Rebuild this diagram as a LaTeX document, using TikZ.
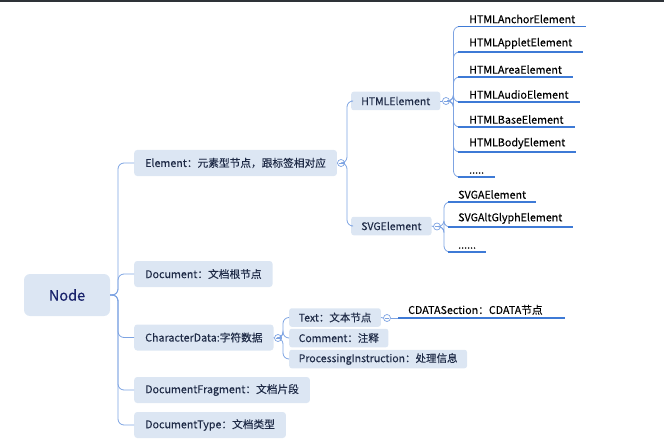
\documentclass[tikz,border=0pt]{standalone}
\usepackage{fontspec}
\setmainfont{Noto Sans CJK SC}[FakeBold=0.15]
\definecolor{boxfill}{RGB}{220,230,243}
\definecolor{lineblue}{RGB}{125,163,226}
\definecolor{ulblue}{RGB}{62,122,214}
\definecolor{navy}{RGB}{30,42,70}
\definecolor{topbar}{RGB}{46,50,56}
\tikzset{
  rootbox/.style={fill=boxfill, rounded corners=6pt, minimum width=86pt, minimum height=42pt,
    inner sep=0pt, text=navy!80!blue, font=\fontsize{14.5}{16}\selectfont},
  lvlbox/.style={fill=boxfill, rounded corners=3pt, anchor=west, minimum height=26pt,
    inner xsep=11pt, inner ysep=0pt, text=navy, font=\fontsize{10.7}{12}\selectfont},
  subbox/.style={fill=boxfill, rounded corners=2.5pt, anchor=west, minimum height=18.5pt,
    inner xsep=9.5pt, inner ysep=0pt, text=navy, font=\fontsize{10.5}{12}\selectfont},
  leaf/.style={anchor=south west, inner xsep=11pt, inner ysep=3pt, text=black,
    font=\fontsize{10.7}{12}\selectfont},
  conn/.style={draw=lineblue, line width=0.8pt, rounded corners=6pt},
  uline/.style={draw=ulblue, line width=1.7pt},
  circ/.style={circle, draw=lineblue, line width=0.7pt, fill=white, minimum size=7pt, inner sep=0pt,
    path picture={\draw[lineblue, line width=0.6pt] ([xshift=-2pt]path picture bounding box.center) -- ([xshift=2pt]path picture bounding box.center);}},
}
\begin{document}
\begin{tikzpicture}[x=1pt,y=-1pt]
\useasboundingbox (0,0) rectangle (664,441);
\fill[topbar] (0,0) rectangle (664,2.5);

% root and level 1
\node[rootbox] (root) at (67,295) {Node};
\node[lvlbox] (el) at (134,163) {Element：元素型节点，跟标签相对应};
\node[lvlbox] (doc) at (134,274) {Document：文档根节点};
\node[lvlbox] (cd) at (134,337.5) {CharacterData:字符数据};
\node[lvlbox] (frag) at (134,390) {DocumentFragment：文档片段};
\node[lvlbox] (dt) at (134,425) {DocumentType：文档类型};

\draw[conn] (root.east) -- (118,295) |- (el.west);
\draw[conn] (root.east) -- (118,295) |- (doc.west);
\draw[conn] (root.east) -- (118,295) |- (cd.west);
\draw[conn] (root.east) -- (118,295) |- (frag.west);
\draw[conn] (root.east) -- (118,295) |- (dt.west);

% Element branch
\node[circ] (c1) at (341,163) {};
\draw[conn] (el.east) -- (c1.west);
\node[subbox, inner xsep=10pt] (html) at (351,101) {HTMLElement};
\node[subbox, inner xsep=10pt] (svg) at (351,226) {SVGElement};
\draw[conn] (c1.east) -- (347,163) |- (html.west);
\draw[conn] (c1.east) -- (347,163) |- (svg.west);

% HTML children
\node[circ] (c2) at (446,101) {};
\draw[conn] (html.east) -- (c2.west);
\node[leaf] (h1) at (458,26.5) {HTMLAnchorElement};
\node[leaf] (h2) at (458,52) {HTMLAppletElement};
\node[leaf] (h3) at (458,77) {HTMLAreaElement};
\node[leaf] (h4) at (458,102) {HTMLAudioElement};
\node[leaf] (h5) at (458,127) {HTMLBaseElement};
\node[leaf] (h6) at (458,152) {HTMLBodyElement};
\node[leaf] (h7) at (458,177) {.....};
\foreach \n in {h1,h2,h3,h4,h5,h6,h7}{
  \draw[conn] (c2.east) -- (453.5,101) |- (\n.south west);
  \draw[uline] (\n.south west) -- (\n.south east);
}

% SVG children
\node[circ] (c3) at (437,226.5) {};
\draw[conn] (svg.east) -- (c3.west);
\node[leaf, inner xsep=10pt] (s1) at (448,202) {SVGAElement};
\node[leaf, inner xsep=10pt] (s2) at (448,227) {SVGAltGlyphElement};
\node[leaf, inner xsep=10pt] (s3) at (448,252) {......};
\foreach \n in {s1,s2,s3}{
  \draw[conn] (c3.east) -- (444,226.5) |- (\n.south west);
  \draw[uline] (\n.south west) -- (\n.south east);
}

% CharacterData children
\node[circ] (c4) at (278,338) {};
\draw[conn] (cd.east) -- (c4.west);
\node[subbox] (txt) at (289,317.5) {Text：文本节点};
\node[subbox] (cmt) at (289,338) {Comment：注释};
\node[subbox] (pi) at (289,359) {ProcessingInstruction：处理信息};
\draw[conn] (c4.east) -- (283,338) |- (txt.west);
\draw[conn] (c4.east) -- (283,338) |- (cmt.west);
\draw[conn] (c4.east) -- (283,338) |- (pi.west);

% Text child
\node[circ] (c5) at (387,318) {};
\draw[conn] (txt.east) -- (c5.west);
\node[leaf, inner xsep=10pt] (cdata) at (398,318) {CDATASection：CDATA节点};
\draw[conn] (c5.east) -- (cdata.south west);
\draw[uline] (cdata.south west) -- ([xshift=12pt]cdata.south east);
\end{tikzpicture}
\end{document}
